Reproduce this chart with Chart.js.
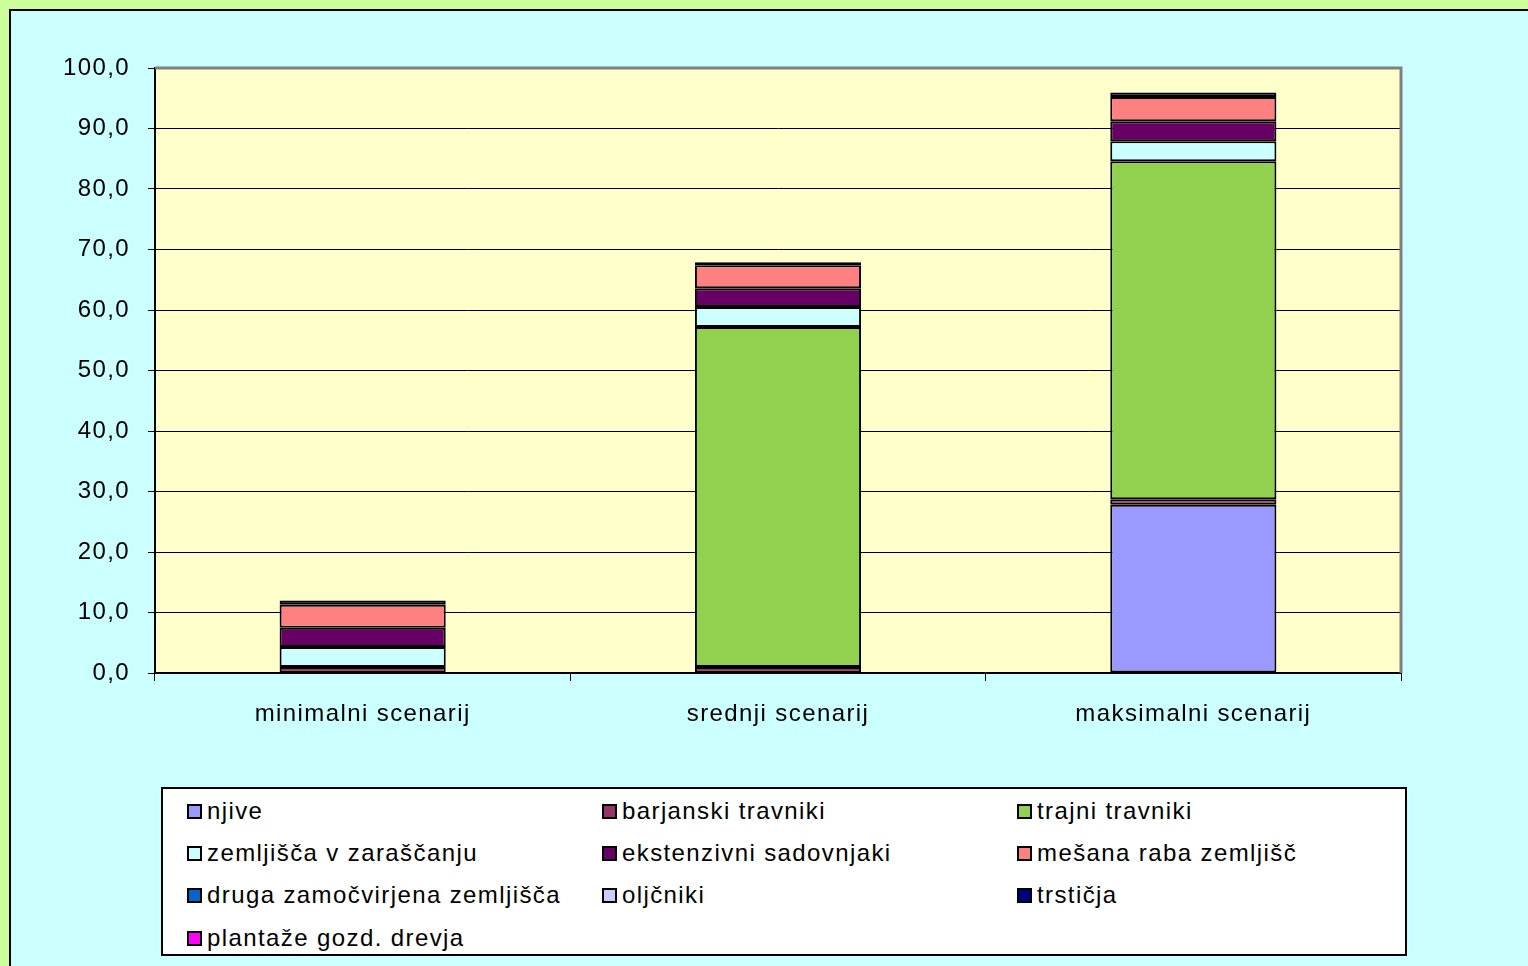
<!DOCTYPE html>
<html>
<head>
<meta charset="utf-8">
<script src="https://cdn.jsdelivr.net/npm/chart.js@4/dist/chart.umd.min.js"></script>
<style>
  html,body{margin:0;padding:0;width:1528px;height:966px;overflow:hidden;background:#ccff99;}
  #panel{position:absolute;left:9px;top:9px;right:0;bottom:0;background:#ccffff;border-top:2px solid #000;border-left:2px solid #000;}
  #chart{position:absolute;left:0;top:0;}
  #legend{position:absolute;left:161px;top:787px;width:1246px;height:169px;box-sizing:border-box;border:2px solid #000;background:#fff;
    font-family:"Liberation Sans",Arial,sans-serif;font-size:24px;letter-spacing:1.4px;color:#000;}
  .li{position:absolute;height:28px;line-height:28px;white-space:nowrap;}
  .li i{position:absolute;left:0;top:7px;width:11px;height:11px;border:2px solid #000;}
  .li span{position:absolute;left:20px;top:0;}
</style>
</head>
<body>
<div id="panel"></div>
<canvas id="chart" width="1528" height="966"></canvas>
<div id="legend"></div>
<script>
// ---- data ----
const categories = ['minimalni scenarij','srednji scenarij','maksimalni scenarij'];
const seriesNames = ['njive','barjanski travniki','trajni travniki','zemljišča v zaraščanju','ekstenzivni sadovnjaki',
  'mešana raba zemljišč','druga zamočvirjena zemljišča','oljčniki','trstičja','plantaže gozd. drevja'];
const njive      = [0,   0,    27.8];
const barjanski  = [1.0, 1.0,  0.9];
const trajni     = [0,   56.2, 55.9];
const zarascanje = [3.3, 3.3,  3.3];
const sadovnjaki = [3.2, 3.1,  3.3];
const mesana     = [3.8, 3.8,  4.0];
const druga      = [0,   0,    0];
const oljcniki   = [0,   0,    0];
const trsticja   = [0.7, 0.5,  0.75];
const plantaze   = [0,   0,    0];
const yTicks = [0,10,20,30,40,50,60,70,80,90,100];

const seriesData = [njive,barjanski,trajni,zarascanje,sadovnjaki,mesana,druga,oljcniki,trsticja,plantaze];
const colors = ['#9999ff','#993366','#92d050','#ccffff','#660066','#ff8080','#0066cc','#ccccff','#000080','#ff00ff'];

const FONT = {family:'"Liberation Sans", Arial, sans-serif', size:24};

// letter spacing + plot background + grey frame
const frame = {
  id:'frame',
  beforeUpdate(c){ c.ctx.letterSpacing = '1.4px'; },
  beforeDraw(c){
    const a = c.chartArea, x = c.ctx;
    x.letterSpacing = '1.4px';
    x.save(); x.fillStyle = '#ffffcc'; x.fillRect(a.left, a.top, a.right-a.left, a.bottom-a.top); x.restore();
  },
  afterDraw(c){
    const a = c.chartArea, x = c.ctx;
    x.save(); x.strokeStyle = '#808080'; x.lineWidth = 3;
    x.beginPath(); x.moveTo(a.left, a.top); x.lineTo(a.right, a.top); x.lineTo(a.right, a.bottom); x.stroke();
    x.restore();
  }
};

const chart = new Chart(document.getElementById('chart'), {
  type:'bar',
  data:{
    labels:categories,
    datasets: seriesNames.map((n,i)=>({
      label:n, data:seriesData[i], backgroundColor:colors[i],
      borderColor:'#000', borderWidth:2, borderSkipped:false
    }))
  },
  options:{
    responsive:false, devicePixelRatio:1, animation:false,
    layout:{padding:{top:68,right:127,left:0,bottom:0}},
    datasets:{bar:{categoryPercentage:0.4,barPercentage:1}},
    plugins:{legend:{display:false},tooltip:{enabled:false}},
    scales:{
      x:{
        stacked:true,
        afterFit:s=>{ s.height = 293; },
        grid:{offset:true,drawOnChartArea:false,drawTicks:true,tickLength:8,color:'#000',lineWidth:1},
        border:{color:'#000',width:2},
        ticks:{color:'#000',font:FONT,padding:19,maxRotation:0}
      },
      y:{
        stacked:true, min:0, max:100,
        afterFit:s=>{ s.width = 155; },
        afterBuildTicks:s=>{ s.ticks = yTicks.map(v=>({value:v})); },
        grid:{color:'#000',lineWidth:1,drawTicks:true,tickLength:7},
        border:{color:'#000',width:2},
        ticks:{color:'#000',font:FONT,padding:18,callback:v=>v.toFixed(1).replace('.',',')}
      }
    }
  },
  plugins:[frame]
});

// HTML legend in three columns
const lg = document.getElementById('legend');
const colX = [24, 439, 854], rowY = [8, 50, 92, 135];
chart.data.datasets.forEach((d,i)=>{
  const el = document.createElement('div');
  el.className = 'li';
  el.style.left = colX[i%3]+'px';
  el.style.top = rowY[Math.floor(i/3)]+'px';
  el.innerHTML = '<i style="background:'+d.backgroundColor+'"></i><span>'+d.label+'</span>';
  lg.appendChild(el);
});
</script>
</body>
</html>
